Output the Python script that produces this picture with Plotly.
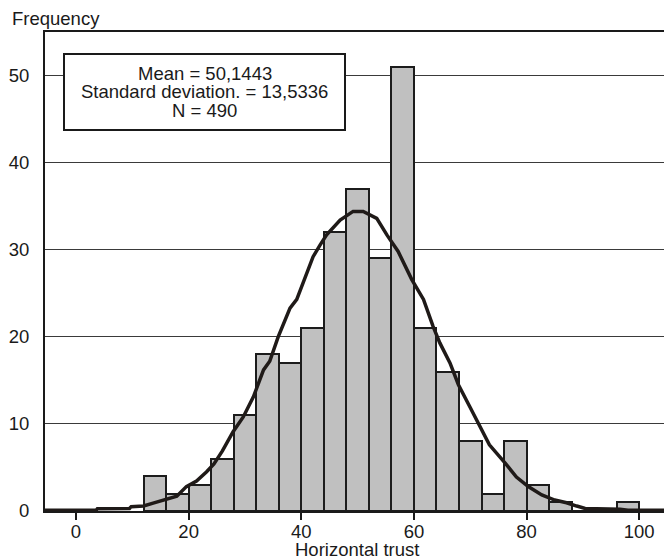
import plotly.graph_objects as go

# ---- data ----
bin_lower = [12, 16, 20, 24, 28, 32, 36, 40, 44, 48, 52, 56, 60, 64, 68, 72, 76, 80, 84, 88, 92, 96]
counts = [4, 2, 3, 6, 11, 18, 17, 21, 32, 37, 29, 51, 21, 16, 8, 2, 8, 3, 1, 0, 0, 1]
bin_width = 4

curve_x = [-5.5, 3.6, 3.8, 9.5, 9.8, 12.0, 13.7, 16.1, 17.9, 19.6, 21.4, 23.2, 24.5, 26.0, 27.9,
           29.7, 31.5, 33.3, 34.4, 35.9, 38.0, 39.2, 40.5, 42.1, 43.3, 44.5, 46.9, 49.2, 51.0,
           53.4, 55.2, 57.2, 59.6, 61.7, 63.4, 64.6, 66.4, 67.9, 69.9, 71.7, 73.4, 76.2, 78.2,
           80.3, 82.7, 85.0, 87.1, 88.9, 90.4, 96.6, 98.0, 104.4]
curve_y = [0.1, 0.1, 0.25, 0.3, 0.5, 0.57, 0.9, 1.4, 1.7, 2.8, 3.45, 4.5, 5.4, 6.9, 9.1,
           10.8, 13.1, 16.2, 17.2, 20.0, 23.3, 24.3, 26.5, 29.2, 30.5, 31.7, 33.4, 34.4, 34.4,
           33.6, 31.7, 29.8, 26.6, 24.3, 21.2, 19.3, 17.0, 14.5, 12.0, 9.8, 7.6, 5.5, 3.9,
           2.8, 1.84, 1.26, 0.95, 0.57, 0.3, 0.2, 0.08, 0.08]

x_ticks = [0, 20, 40, 60, 80, 100]
y_ticks = [0, 10, 20, 30, 40, 50]
stats_lines = ["Mean = 50,1443", "Standard deviation. = 13,5336", "N = 490"]
x_title = "Horizontal trust"
y_title = "Frequency"

FONT = "Liberation Sans, Arial, sans-serif"
FS = 18.5
TXT = "#1a1a1a"

fig = go.Figure()
fig.add_trace(go.Bar(
    x=bin_lower, y=counts, width=bin_width, offset=0,
    marker=dict(color="#c0c0c0", line=dict(color="#1c1c1c", width=2)),
    hoverinfo="skip", showlegend=False,
))
fig.add_trace(go.Scatter(
    x=curve_x, y=curve_y, mode="lines",
    line=dict(color="#1f1a18", width=3.5),
    hoverinfo="skip", showlegend=False,
))

fig.update_layout(
    width=664, height=559,
    margin=dict(l=45, r=0, t=32, b=48),
    paper_bgcolor="white", plot_bgcolor="white",
    font=dict(family=FONT, size=FS, color=TXT),
    bargap=0,
    showlegend=False,
)
fig.update_xaxes(
    range=[-5.5, 104.4], tickvals=x_ticks, ticktext=[str(v) for v in x_ticks],
    showgrid=False, zeroline=False,
    showline=True, linecolor="#1a1a1a", linewidth=2, mirror=True,
    ticks="outside", ticklen=7, tickwidth=1.5, tickcolor="#1a1a1a",
    ticklabelstandoff=-4,
    tickfont=dict(family=FONT, size=FS, color=TXT),
)
fig.update_yaxes(
    range=[0, 55.0], tickvals=y_ticks, ticktext=[str(v) for v in y_ticks],
    showgrid=True, gridcolor="#3a3a3a", gridwidth=1, zeroline=False,
    showline=True, linecolor="#1a1a1a", linewidth=2,
    ticks="", ticklabelstandoff=10,
    tickfont=dict(family=FONT, size=FS, color=TXT),
)

def px_x(p):
    return (p - 45) / 619.0

def px_y(p):
    return (511 - p) / 479.0

# stats box
fig.add_shape(type="rect", xref="paper", yref="paper",
              x0=px_x(64), x1=px_x(345), y0=px_y(130), y1=px_y(54),
              line=dict(color="#1a1a1a", width=2), fillcolor="white", layer="above")
for line_txt, cy in zip(stats_lines, [73.3, 91.7, 110.0]):
    fig.add_annotation(text=line_txt, xref="paper", yref="paper",
                       x=px_x(204.5), y=px_y(cy), xanchor="center", yanchor="middle",
                       showarrow=False, font=dict(family=FONT, size=FS, color=TXT))

fig.add_annotation(text=y_title, xref="paper", yref="paper",
                   x=px_x(10), y=px_y(18), xanchor="left", yanchor="middle",
                   showarrow=False, font=dict(family=FONT, size=FS, color=TXT))
fig.add_annotation(text=x_title, xref="paper", yref="paper",
                   x=px_x(357), y=px_y(549.5), xanchor="center", yanchor="middle",
                   showarrow=False, font=dict(family=FONT, size=FS, color=TXT))

fig.write_html(
    "out.html",
    config={"displayModeBar": False},
    post_script="document.body.style.margin='0px';document.body.style.overflow='hidden';",
)
